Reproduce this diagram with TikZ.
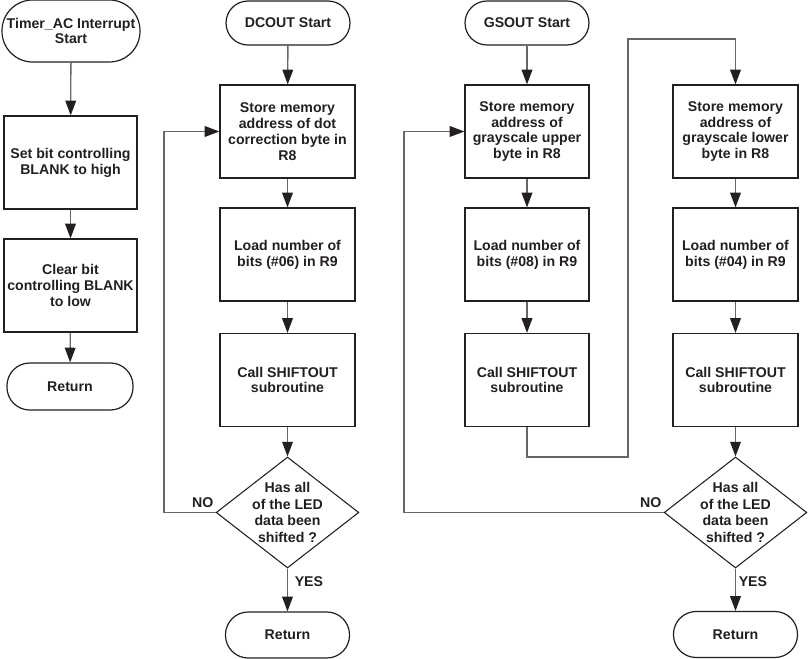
\documentclass[tikz,border=0pt]{standalone}
\usepackage{fontspec}
\setmainfont{Liberation Sans}
\usetikzlibrary{arrows.meta,shapes.geometric,calc}
\definecolor{ink}{HTML}{231F20}
\definecolor{wire}{HTML}{666666}
\begin{document}
\begin{tikzpicture}[x=0.75pt,y=-0.75pt,
 every node/.style={font=\bfseries\fontsize{10.6}{11.9}\selectfont, text=ink, align=center},
 procbox/.style={draw=ink, line width=0.9pt, minimum height=69.75pt, inner sep=0pt},
 term/.style={draw=ink, line width=0.9pt, rounded corners=17pt, inner sep=0pt, minimum height=34.5pt, minimum width=93pt},
 decide/.style={draw=ink, line width=0.8pt, diamond, inner sep=0pt, minimum width=107pt, minimum height=83.25pt},
 dtext/.style={font=\bfseries\fontsize{10.6}{12.4}\selectfont, inner sep=0pt},
 flow/.style={draw=wire, line width=1pt, -{Triangle[length=11pt,width=8pt,color=ink]}},
 wireline/.style={draw=wire, line width=1pt},
 lbl/.style={inner sep=0pt}
]
\useasboundingbox (0,0) rectangle (808,659);

% Column 1
\node[term, minimum width=103.5pt, minimum height=46.5pt, rounded corners=23pt] (t1) at (71,31) {Timer\_AC Interrupt\\Start};
\node[procbox, minimum width=99.75pt] (b11) at (70.5,162.5) {Set bit controlling\\BLANK to high};
\node[procbox, minimum width=99.75pt] (b12) at (70.5,285.5) {Clear bit\\controlling BLANK\\to low};
\node[term, minimum width=94.5pt, minimum height=35.25pt] (r1) at (70,386.5) {Return};
\draw[flow] (t1) -- (b11);
\draw[flow] (b11) -- (b12);
\draw[flow] (b12) -- (r1);

% Column 2
\node[term, minimum height=33pt, rounded corners=16.5pt] (t2) at (288,23) {DCOUT Start};
\node[procbox, minimum width=101.25pt] (b21) at (287.5,131.5) {Store memory\\address of dot\\correction byte in\\R8};
\node[procbox, minimum width=101.25pt] (b22) at (287.5,254.5) {Load number of\\bits (\#06) in R9};
\node[procbox, minimum width=101.25pt] (b23) at (287.5,380) {Call SHIFTOUT\\subroutine};
\node[decide] (d2) at (287.5,512.5) {};
\node[dtext] (d2t) at (d2.center) {Has all\\of the LED\\data been\\shifted ?};
\node[term] (r2) at (287.5,635) {Return};
\draw[flow] (t2) -- (b21);
\draw[flow] (b21) -- (b22);
\draw[flow] (b22) -- (b23);
\draw[flow] (b23) -- (d2);
\draw[flow] (d2) -- (r2);
\coordinate (l2) at (164,512.5);
\draw[flow] (d2.west) -- (l2) |- (b21.west);
\node[lbl, anchor=east] (no2) at ($(d2.west)+(-2,-9.5)$) {NO};
\node[lbl, anchor=west] (yes2) at ($(d2.south)+(7,13.5)$) {YES};

% Column 3
\node[term, minimum height=33pt, rounded corners=16.5pt] (t3) at (527,23) {GSOUT Start};
\node[procbox, minimum width=93pt] (b31) at (527,131.5) {Store memory\\address of\\grayscale upper\\byte in R8};
\node[procbox, minimum width=93pt] (b32) at (527,254.5) {Load number of\\bits (\#08) in R9};
\node[procbox, minimum width=93pt] (b33) at (527,380) {Call SHIFTOUT\\subroutine};
\draw[flow] (t3) -- (b31);
\draw[flow] (b31) -- (b32);
\draw[flow] (b32) -- (b33);

% Column 4
\node[procbox, minimum width=93.75pt] (b41) at (735.5,131.5) {Store memory\\address of\\grayscale lower\\byte in R8};
\node[procbox, minimum width=93.75pt] (b42) at (735.5,254.5) {Load number of\\bits (\#04) in R9};
\node[procbox, minimum width=93.75pt] (b43) at (735.5,380) {Call SHIFTOUT\\subroutine};
\node[decide] (d4) at (735.5,512.5) {};
\node[dtext] (d4t) at (d4.center) {Has all\\of the LED\\data been\\shifted ?};
\node[term] (r4) at (735.5,634.5) {Return};
\draw[flow] (b41) -- (b42);
\draw[flow] (b42) -- (b43);
\draw[flow] (b43) -- (d4);
\draw[flow] (d4) -- (r4);
\node[lbl, anchor=east] (no4) at ($(d4.west)+(-2,-9.5)$) {NO};
\node[lbl, anchor=west] (yes4) at ($(d4.south)+(3,13.5)$) {YES};

% Jump from column 3 to column 4
\coordinate (j1) at (527,457);
\coordinate (j2) at (628,457);
\coordinate (j3) at (628,39);
\coordinate (j4) at (735.5,39);
\draw[flow] (b33.south) -- (j1) -- (j2) -- (j3) -- (j4) -- (b41.north);

% Loop back in column 3/4
\coordinate (l4) at (404,512.5);
\draw[flow] (d4.west) -- (l4) |- (b31.west);
\end{tikzpicture}
\end{document}
